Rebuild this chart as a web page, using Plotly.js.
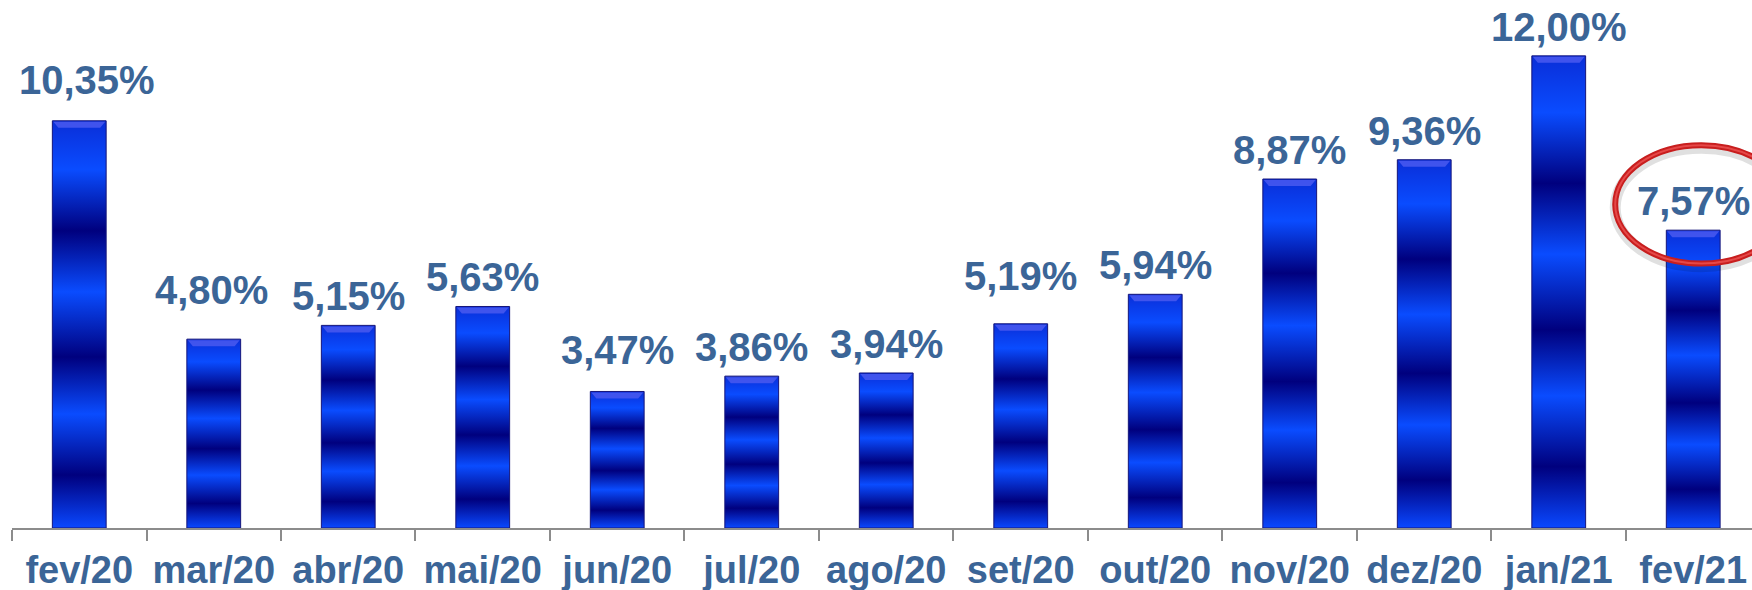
<!DOCTYPE html>
<html>
<head>
<meta charset="utf-8">
<script src="https://cdn.plot.ly/plotly-3.0.1.min.js"></script>
<style>
  html, body { margin: 0; padding: 0; background: #ffffff; }
  #chart { width: 1752px; height: 590px; }
</style>
</head>
<body>
<div id="chart"></div>
<script>
// ---- data ----
const categories = ["fev/20", "mar/20", "abr/20", "mai/20", "jun/20", "jul/20", "ago/20",
                    "set/20", "out/20", "nov/20", "dez/20", "jan/21", "fev/21"];
const values = [10.35, 4.80, 5.15, 5.63, 3.47, 3.86, 3.94, 5.19, 5.94, 8.87, 9.36, 12.00, 7.57];
const highlightCategory = "fev/21";

// ---- layout tweaks (label nudges in px, not data) ----
const labelLift = [12, 20, 0, 0, 12, 0, 0, 19, 0, 0, 0, 0, 0];
const labelNudgeX = [8, -2, 0, 0, 0, 0, 0, 0, 0, 0, 0, 0, 0];

const textColor = "#3b6597";
const fontFamily = "'Liberation Sans', Arial, sans-serif";

function fmt(v) { return v.toFixed(2).replace(".", ",") + "%"; }

const trace = {
  type: "bar",
  x: categories,
  y: values,
  width: 0.4,
  marker: { color: "#0a40f0", line: { color: "#15157a", width: 1 } },
  hoverinfo: "skip"
};

const annotations = categories.map((c, i) => ({
  x: c, y: values[i], xref: "x", yref: "y",
  text: fmt(values[i]),
  showarrow: false,
  yanchor: "bottom",
  yshift: 5 + labelLift[i],
  xshift: labelNudgeX[i],
  font: { family: fontFamily, size: 40, color: textColor, weight: 700 }
}));

const hi = categories.indexOf(highlightCategory);
const hv = values[hi];
const shapes = [
  { type: "circle", xref: "x", yref: "y", layer: "above",
    x0: hi - 0.58, x1: hi + 0.70, y0: hv - 0.93, y1: hv + 2.08,
    line: { color: "rgba(0,0,0,0.12)", width: 11 } },
  { type: "circle", xref: "x", yref: "y", layer: "above",
    x0: hi - 0.58, x1: hi + 0.70, y0: hv - 0.85, y1: hv + 2.16,
    line: { color: "#c81e1e", width: 6 } },
  { type: "circle", xref: "x", yref: "y", layer: "above",
    x0: hi - 0.58, x1: hi + 0.70, y0: hv - 0.85, y1: hv + 2.16,
    line: { color: "#e54848", width: 2 } }
];

const layout = {
  width: 1752, height: 590,
  margin: { l: 12, r: 0, t: 0, b: 62, pad: 0 },
  paper_bgcolor: "#ffffff", plot_bgcolor: "#ffffff",
  showlegend: false,
  xaxis: {
    type: "category",
    range: [-0.5, 12.437],
    tickson: "boundaries",
    showline: true, linecolor: "#8c8c8c", linewidth: 2,
    ticks: "outside", ticklen: 11, tickwidth: 2, tickcolor: "#8c8c8c",
    showgrid: false, zeroline: false,
    tickfont: { family: fontFamily, size: 38, color: textColor, weight: 700 },
    ticklabelstandoff: 7,
    fixedrange: true
  },
  yaxis: {
    range: [0, 13.42],
    visible: false, showgrid: false, zeroline: false, fixedrange: true
  },
  annotations: annotations,
  shapes: shapes
};

const gd = document.getElementById("chart");
Plotly.newPlot(gd, [trace], layout, { displayModeBar: false, staticPlot: true }).then(() => {
  const NS = "http://www.w3.org/2000/svg";
  const svg = gd.querySelector("svg.main-svg");
  let defs = svg.querySelector("defs");
  if (!defs) { defs = document.createElementNS(NS, "defs"); svg.insertBefore(defs, svg.firstChild); }
  const grad = document.createElementNS(NS, "linearGradient");
  grad.setAttribute("id", "barBands");
  grad.setAttribute("x1", "0"); grad.setAttribute("y1", "0");
  grad.setAttribute("x2", "0"); grad.setAttribute("y2", "1");
  const stops = [
    [0.00, "#0a2ed8"], [0.12, "#0a4cff"], [0.27, "#00007e"], [0.42, "#0a4cff"],
    [0.58, "#00007e"], [0.72, "#0a4cff"], [0.87, "#00007e"], [1.00, "#0a48ff"]
  ];
  stops.forEach(([o, c]) => {
    const s = document.createElementNS(NS, "stop");
    s.setAttribute("offset", o); s.setAttribute("stop-color", c);
    grad.appendChild(s);
  });
  defs.appendChild(grad);
  gd.querySelectorAll(".bars .point path").forEach(p => {
    p.style.fill = "url(#barBands)";
    const b = p.getBBox();
    const bev = document.createElementNS(NS, "path");
    const h = 7, inset = 6;
    bev.setAttribute("d", `M${b.x + 1},${b.y + 1}H${b.x + b.width - 1}L${b.x + b.width - inset},${b.y + h}H${b.x + inset}Z`);
    bev.setAttribute("fill", "#4658ee");
    bev.setAttribute("opacity", "0.9");
    p.parentNode.appendChild(bev);
  });
});
</script>
</body>
</html>
